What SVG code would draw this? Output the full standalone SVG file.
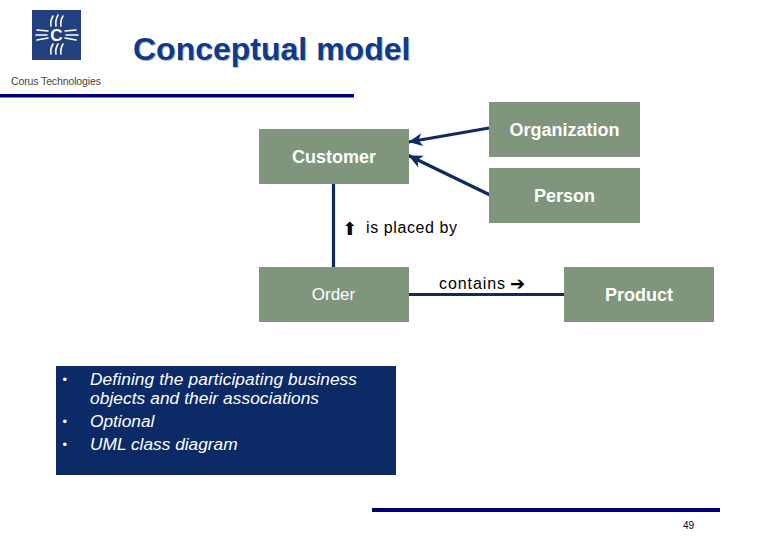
<svg xmlns="http://www.w3.org/2000/svg" width="780" height="540" viewBox="0 0 780 540">
<style>
text{font-family:"Liberation Sans",Arial,sans-serif}
.n{fill:#7f967c}
.w{fill:#fff;font-size:18px;text-anchor:middle;font-weight:bold}
.k{fill:#000;font-size:16px}
.a{fill:#000;font-family:"DejaVu Sans",sans-serif}
.c{stroke:#0f2a63;stroke-width:3.200;fill:none}
.b{fill:#fff;font-size:17.300px;font-style:italic}
.r{stroke:#fff;stroke-width:1.600;fill:none;stroke-linecap:round}
</style>
<defs>
<marker id="ah" markerUnits="userSpaceOnUse" markerWidth="16" markerHeight="14" refX="15" refY="7" orient="auto"><path d="M1 0.500L15 7L1 13.500L5 7Z" fill="#0f2a63"/></marker>
</defs>
<rect width="780" height="540" fill="#fff"/>
<g id="logo">
<rect x="32" y="10" width="49" height="50" fill="#23407e"/>
<g class="r">
<path d="M51 26Q50 21 53 16M56 26Q55 21 58 15M61 26Q60 21 63 16"/>
<path d="M51 54Q50 49 53 44M56 54Q55 49 58 44M61 54Q60 49 63 44"/>
<path d="M37 30L48 31M36 35H47M37 40L48 38"/>
<path d="M65 31L76 30M66 35H78M65 38L76 40"/>
</g>
<text x="56.500" y="41" font-size="17" font-weight="bold" fill="#fff" text-anchor="middle">C</text>
<text x="11" y="85" font-size="10.500" fill="#444" textLength="90">Corus Technologies</text>
</g>
<g id="title">
<text x="134" y="60.500" font-size="32" font-weight="bold" fill="#b4bccf">Conceptual model</text>
<text x="133" y="59.500" font-size="32" font-weight="bold" fill="#0f3a8c">Conceptual model</text>
</g>
<rect id="rule-top" x="0" y="94" width="354" height="3.500" fill="#000080"/>
<rect id="rule-bottom" x="372" y="508" width="348" height="4" fill="#000080"/>
<g id="connectors">
<path class="c" marker-end="url(#ah)" d="M489 128L408.500 142"/>
<path class="c" marker-end="url(#ah)" d="M490 195L408.500 155.500"/>
<path class="c" d="M333.500 183V268"/>
<path class="c" d="M408 294.500H565"/>
</g>
<g id="customer"><rect class="n" x="259" y="129" width="150" height="55"/><text class="w" x="334" y="162.500">Customer</text></g>
<g id="organization"><rect class="n" x="489" y="102" width="151" height="55"/><text class="w" x="564.500" y="135.500">Organization</text></g>
<g id="person"><rect class="n" x="489" y="168" width="151" height="55"/><text class="w" x="564.500" y="201.500">Person</text></g>
<g id="order"><rect class="n" x="259" y="267" width="150" height="55"/><text x="333.500" y="299.500" fill="#fff" font-size="17" text-anchor="middle">Order</text></g>
<g id="product"><rect class="n" x="564" y="267" width="150" height="55"/><text class="w" x="639" y="300.500">Product</text></g>
<g id="labels">
<text class="a" x="349.500" y="235" font-size="18" text-anchor="middle">⬆</text>
<text class="k" x="366" y="232.500" textLength="91">is placed by</text>
<text class="k" x="439" y="288.500" textLength="66">contains</text>
<text class="a" x="510" y="289.500" font-size="18">➔</text>
</g>
<g id="notes">
<rect x="56" y="366" width="340" height="109" fill="#0b2a66"/>
<g fill="#fff" font-size="13">
<text x="62.500" y="384">•</text><text x="62.500" y="426">•</text><text x="62.500" y="449">•</text>
</g>
<text class="b" x="90" y="384.500" textLength="267">Defining the participating business</text>
<text class="b" x="90" y="403.500" textLength="229">objects and their associations</text>
<text class="b" x="90" y="426.500">Optional</text>
<text class="b" x="90" y="449.500">UML class diagram</text>
</g>
<text id="page" x="683" y="529" font-size="10" fill="#000">49</text>
</svg>
